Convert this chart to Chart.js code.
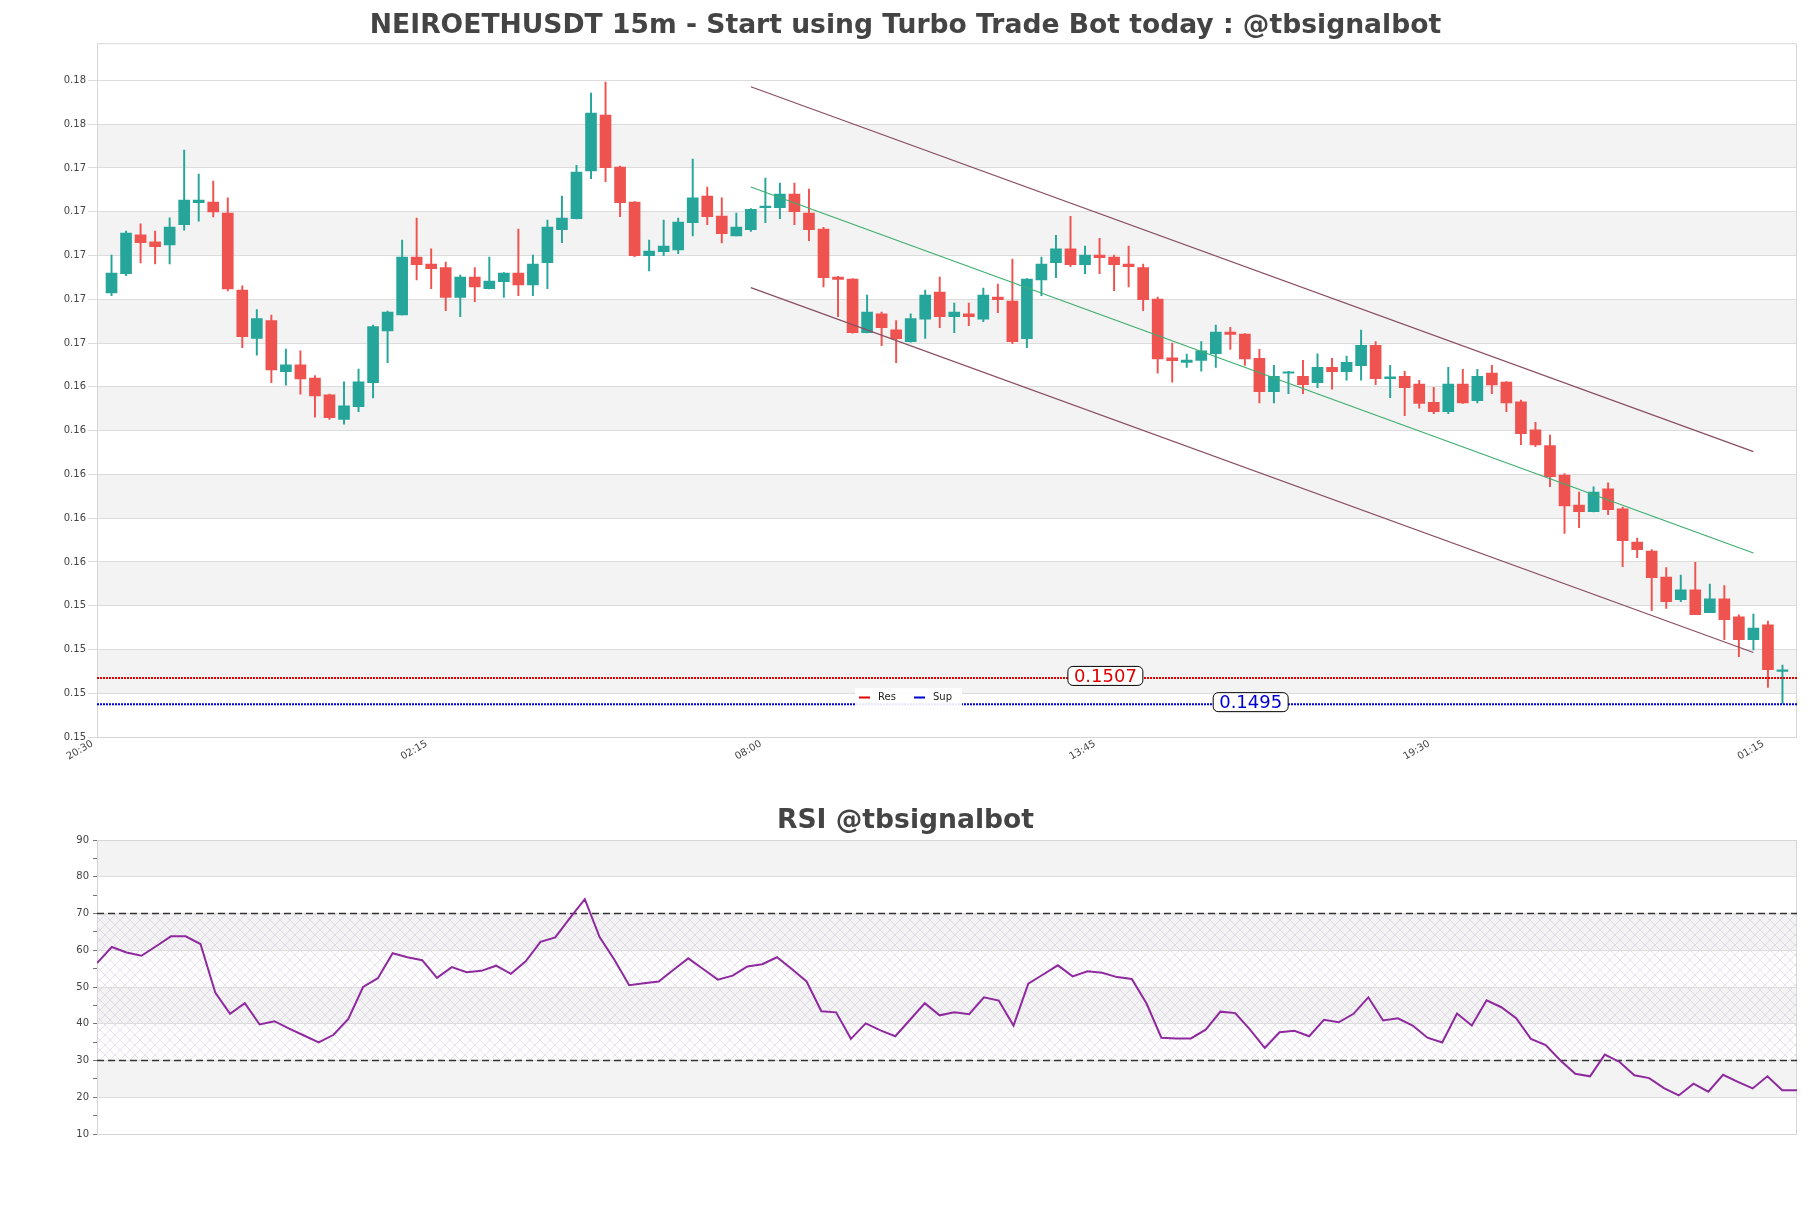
<!DOCTYPE html>
<html>
<head>
<meta charset="UTF-8">
<title>NEIROETHUSDT 15m</title>
<script src="https://cdn.jsdelivr.net/npm/chart.js@4.4.1/dist/chart.umd.min.js"></script>
<style>
  html, body { margin: 0; padding: 0; background: #fff; }
  #wrap { position: relative; width: 1811px; height: 1208px; }
  #priceBox { position: absolute; left: 0; top: 0; width: 1811px; height: 790px; }
  #rsiBox { position: absolute; left: 0; top: 790px; width: 1811px; height: 418px; }
</style>
</head>
<body>
<div id="wrap">
  <div id="priceBox"><canvas id="priceChart" width="1811" height="790"></canvas></div>
  <div id="rsiBox"><canvas id="rsiChart" width="1811" height="418"></canvas></div>
</div>
<script>
// x ticks (candle index -> time label)
const timeLabels = ['20:30', '02:15', '08:00', '13:45', '19:30', '01:15'];
const timeTickIdx = [-1, 22, 45, 68, 91, 114];
const priceTicks = [0.148, 0.150, 0.152, 0.154, 0.156, 0.158, 0.160, 0.162, 0.164, 0.166, 0.168, 0.170, 0.172, 0.174, 0.176, 0.178];

// 15m candles
const opens = [
  0.16829, 0.16917, 0.17094, 0.17062, 0.17048, 0.17141, 0.17241, 0.17244, 0.17194, 0.16842,
  0.16621, 0.16703, 0.16469, 0.16500, 0.16440, 0.16363, 0.16251, 0.16309, 0.16419, 0.16656,
  0.16729, 0.16993, 0.16961, 0.16945, 0.16808, 0.16902, 0.16848, 0.16880, 0.16920, 0.16866,
  0.16967, 0.17118, 0.17168, 0.17387, 0.17642, 0.17404, 0.17244, 0.16999, 0.17017, 0.17026,
  0.17150, 0.17272, 0.17180, 0.17090, 0.17118, 0.17219, 0.17219, 0.17281, 0.17194, 0.17121,
  0.16902, 0.16892, 0.16647, 0.16734, 0.16660, 0.16606, 0.16709, 0.16833, 0.16720, 0.16733,
  0.16709, 0.16810, 0.16792, 0.16620, 0.16889, 0.16967, 0.17030, 0.16958, 0.17002, 0.16993,
  0.16961, 0.16945, 0.16801, 0.16532, 0.16512, 0.16521, 0.16551, 0.16650, 0.16641, 0.16530,
  0.16378, 0.16462, 0.16448, 0.16419, 0.16489, 0.16469, 0.16497, 0.16590, 0.16437, 0.16448,
  0.16413, 0.16329, 0.16286, 0.16413, 0.16337, 0.16463, 0.16422, 0.16331, 0.16203, 0.16132,
  0.15997, 0.15860, 0.15830, 0.15934, 0.15842, 0.15691, 0.15650, 0.15531, 0.15428, 0.15472,
  0.15368, 0.15431, 0.15349, 0.15245, 0.15312, 0.15100
];
const highs = [
  0.17002, 0.17112, 0.17145, 0.17112, 0.17172, 0.17482, 0.17372, 0.17340, 0.17264, 0.16861,
  0.16753, 0.16728, 0.16573, 0.16564, 0.16451, 0.16367, 0.16423, 0.16481, 0.16682, 0.16746,
  0.17071, 0.17171, 0.17030, 0.16970, 0.16911, 0.16945, 0.16993, 0.16922, 0.17121, 0.17002,
  0.17162, 0.17272, 0.17412, 0.17742, 0.17793, 0.17409, 0.17246, 0.17071, 0.17162, 0.17171,
  0.17441, 0.17313, 0.17263, 0.17194, 0.17215, 0.17354, 0.17331, 0.17331, 0.17304, 0.17129,
  0.16905, 0.16895, 0.16819, 0.16741, 0.16703, 0.16733, 0.16842, 0.16902, 0.16783, 0.16783,
  0.16851, 0.16870, 0.16984, 0.16895, 0.16993, 0.17092, 0.17179, 0.17043, 0.17078, 0.17002,
  0.17043, 0.16961, 0.16810, 0.16600, 0.16550, 0.16607, 0.16682, 0.16672, 0.16643, 0.16571,
  0.16498, 0.16471, 0.16521, 0.16551, 0.16530, 0.16540, 0.16659, 0.16607, 0.16498, 0.16471,
  0.16430, 0.16398, 0.16489, 0.16480, 0.16480, 0.16498, 0.16424, 0.16340, 0.16238, 0.16180,
  0.16004, 0.15919, 0.15943, 0.15961, 0.15850, 0.15709, 0.15656, 0.15574, 0.15540, 0.15598,
  0.15499, 0.15492, 0.15358, 0.15362, 0.15330, 0.15129
];
const lows = [
  0.16816, 0.16908, 0.16966, 0.16962, 0.16962, 0.17116, 0.17157, 0.17176, 0.16838, 0.16579,
  0.16545, 0.16419, 0.16408, 0.16367, 0.16261, 0.16251, 0.16229, 0.16286, 0.16349, 0.16510,
  0.16728, 0.16889, 0.16848, 0.16748, 0.16720, 0.16789, 0.16847, 0.16808, 0.16816, 0.16816,
  0.16848, 0.17059, 0.17167, 0.17351, 0.17337, 0.17177, 0.16995, 0.16930, 0.16999, 0.17008,
  0.17090, 0.17141, 0.17058, 0.17089, 0.17110, 0.17150, 0.17168, 0.17141, 0.17068, 0.16857,
  0.16720, 0.16645, 0.16646, 0.16588, 0.16510, 0.16604, 0.16621, 0.16670, 0.16647, 0.16679,
  0.16698, 0.16739, 0.16597, 0.16579, 0.16816, 0.16899, 0.16949, 0.16917, 0.16917, 0.16839,
  0.16857, 0.16748, 0.16462, 0.16421, 0.16489, 0.16471, 0.16489, 0.16571, 0.16498, 0.16327,
  0.16327, 0.16369, 0.16369, 0.16396, 0.16389, 0.16430, 0.16430, 0.16410, 0.16350, 0.16268,
  0.16302, 0.16277, 0.16277, 0.16324, 0.16327, 0.16369, 0.16286, 0.16136, 0.16126, 0.15944,
  0.15730, 0.15757, 0.15828, 0.15816, 0.15578, 0.15619, 0.15377, 0.15387, 0.15418, 0.15359,
  0.15368, 0.15245, 0.15167, 0.15198, 0.15026, 0.14954
];
const closes = [
  0.16920, 0.17103, 0.17059, 0.17040, 0.17130, 0.17253, 0.17253, 0.17199, 0.16847, 0.16629,
  0.16712, 0.16477, 0.16500, 0.16436, 0.16358, 0.16259, 0.16313, 0.16423, 0.16675, 0.16742,
  0.16993, 0.16958, 0.16940, 0.16808, 0.16902, 0.16857, 0.16883, 0.16920, 0.16866, 0.16961,
  0.17130, 0.17171, 0.17381, 0.17651, 0.17401, 0.17241, 0.16999, 0.17020, 0.17043, 0.17153,
  0.17264, 0.17177, 0.17100, 0.17130, 0.17211, 0.17221, 0.17281, 0.17200, 0.17118, 0.16899,
  0.16891, 0.16647, 0.16742, 0.16670, 0.16620, 0.16712, 0.16819, 0.16720, 0.16742, 0.16720,
  0.16819, 0.16798, 0.16606, 0.16892, 0.16961, 0.17030, 0.16958, 0.17002, 0.16990, 0.16958,
  0.16949, 0.16798, 0.16528, 0.16519, 0.16522, 0.16564, 0.16650, 0.16640, 0.16528, 0.16378,
  0.16448, 0.16465, 0.16410, 0.16489, 0.16469, 0.16512, 0.16590, 0.16437, 0.16446, 0.16396,
  0.16324, 0.16286, 0.16413, 0.16327, 0.16448, 0.16409, 0.16327, 0.16186, 0.16134, 0.15990,
  0.15856, 0.15830, 0.15919, 0.15839, 0.15697, 0.15656, 0.15528, 0.15418, 0.15472, 0.15359,
  0.15431, 0.15336, 0.15245, 0.15298, 0.15108, 0.15102
];

// regression channel (start index, end index)
const channelIdx = [44, 113];
const channelUpper = [0.17771, 0.16104];
const channelMid = [0.17313, 0.15641];
const channelLower = [0.16853, 0.15186];

const resLevel = 0.1507;
const supLevel = 0.1495;

// RSI
const rsiValues = [
  56.5, 60.9, 59.4, 58.5, 61.1, 63.8, 63.8, 61.7, 48.5, 42.7,
  45.6, 39.8, 40.7, 38.7, 36.8, 34.9, 37.0, 41.3, 50.0, 52.4,
  59.2, 58.1, 57.3, 52.5, 55.4, 54.0, 54.4, 55.8, 53.6, 57.0,
  62.3, 63.5, 68.8, 73.9, 63.6, 57.4, 50.5, 51.0, 51.5, 54.7,
  57.8, 54.9, 52.0, 53.1, 55.6, 56.2, 58.1, 54.9, 51.5, 43.4,
  43.1, 35.9, 40.1, 38.2, 36.6, 41.1, 45.6, 42.3, 43.1, 42.6,
  47.2, 46.3, 39.5, 50.9, 53.4, 55.9, 52.9, 54.3, 53.9, 52.7,
  52.2, 45.5, 36.2, 36.0, 36.0, 38.4, 43.3, 42.9, 38.4, 33.4,
  37.7, 38.1, 36.6, 41.1, 40.4, 42.7, 47.2, 40.9, 41.5, 39.5,
  36.2, 34.9, 42.8, 39.5, 46.4, 44.5, 41.5, 35.9, 34.2, 30.0,
  26.4, 25.7, 31.6, 29.6, 26.0, 25.2, 22.5, 20.5, 23.7, 21.5,
  26.1, 24.2, 22.4, 25.7, 21.9, 21.9
];
const rsiTicks = [10, 15, 20, 25, 30, 35, 40, 45, 50, 55, 60, 65, 70, 75, 80, 85, 90];
const rsiLevels = [70, 30];

Chart.defaults.font.family = "'DejaVu Sans', sans-serif";
Chart.defaults.animation = false;

const upColor = '#26a69a';
const downColor = '#ef5350';
const candleColor = c => closes[c.dataIndex] >= opens[c.dataIndex] ? upColor : downColor;

// white background + alternating grey bands (+ optional hatch)
const bgBands = {
  id: 'bgBands',
  beforeDraw(chart, args, opts) {
    const { ctx, chartArea: a } = chart;
    const y = chart.scales.y;
    ctx.save();
    ctx.fillStyle = '#fff';
    ctx.fillRect(0, 0, chart.width, chart.height);
    ctx.fillStyle = opts.color;
    opts.ranges.forEach(([lo, hi]) => {
      const y1 = y.getPixelForValue(hi);
      const y2 = y.getPixelForValue(lo);
      ctx.fillRect(a.left, y1, a.right - a.left, y2 - y1);
    });
    if (opts.hatch) {
      const p = document.createElement('canvas');
      p.width = 10; p.height = 10;
      const pc = p.getContext('2d');
      pc.strokeStyle = 'rgba(190,170,205,0.5)';
      pc.lineWidth = 0.7;
      pc.beginPath();
      pc.moveTo(0, 0); pc.lineTo(10, 10);
      pc.moveTo(0, 10); pc.lineTo(10, 0);
      pc.stroke();
      const y1 = y.getPixelForValue(opts.hatch[1]);
      const y2 = y.getPixelForValue(opts.hatch[0]);
      ctx.fillStyle = ctx.createPattern(p, 'repeat');
      ctx.fillRect(a.left, y1, a.right - a.left, y2 - y1);
    }
    ctx.restore();
  }
};

const frame = {
  id: 'frame',
  beforeDatasetsDraw(chart) {
    const { ctx, chartArea: a } = chart;
    ctx.save();
    ctx.strokeStyle = '#d6d6d6';
    ctx.lineWidth = 1;
    ctx.strokeRect(a.left + 0.5, a.top + 0.5, a.right - a.left - 1, a.bottom - a.top);
    ctx.restore();
  }
};

// boxed value labels on the S/R lines
const levelTags = {
  id: 'levelTags',
  afterDatasetsDraw(chart, args, opts) {
    const { ctx } = chart;
    const { x, y } = chart.scales;
    ctx.save();
    ctx.font = "18px 'DejaVu Sans', sans-serif";
    ctx.textAlign = 'center';
    ctx.textBaseline = 'middle';
    opts.tags.forEach(t => {
      const txt = t.value.toFixed(4);
      const px = x.getPixelForValue(t.at);
      const py = y.getPixelForValue(t.value) - 2;
      const w = ctx.measureText(txt).width + 12;
      const h = 19;
      ctx.beginPath();
      ctx.roundRect(px - w / 2, py - h / 2, w, h, 5);
      ctx.fillStyle = '#fff';
      ctx.fill();
      ctx.strokeStyle = '#000';
      ctx.lineWidth = 1;
      ctx.stroke();
      ctx.fillStyle = t.color;
      ctx.fillText(txt, px, py + 1);
    });
    ctx.restore();
  }
};

// small Res / Sup legend box
const levelLegend = {
  id: 'levelLegend',
  afterDatasetsDraw(chart, args, opts) {
    const { ctx, chartArea: a } = chart;
    const left = a.left + opts.dx;
    const top = a.bottom - opts.dy;
    ctx.save();
    ctx.fillStyle = 'rgba(255,255,255,0.9)';
    ctx.fillRect(left, top, 107, 19);
    ctx.font = "10px 'DejaVu Sans', sans-serif";
    ctx.textBaseline = 'middle';
    let cx = left + 4;
    opts.items.forEach(it => {
      ctx.strokeStyle = it.color;
      ctx.lineWidth = 2;
      ctx.beginPath();
      ctx.moveTo(cx, top + 9.5);
      ctx.lineTo(cx + 11, top + 9.5);
      ctx.stroke();
      ctx.fillStyle = '#222';
      ctx.fillText(it.label, cx + 19, top + 9.5);
      cx += 55;
    });
    ctx.restore();
  }
};

const lineDs = (xs, ys, color, width, dash, order) => ({
  type: 'line',
  data: xs.map((xv, i) => ({ x: xv, y: ys[i] })),
  borderColor: color,
  borderWidth: width,
  borderDash: dash,
  pointRadius: 0,
  fill: false,
  order: order
});

new Chart(document.getElementById('priceChart'), {
  type: 'bar',
  data: {
    datasets: [
      {
        label: 'wick',
        data: lows.map((l, i) => ({ x: i, y: [l, highs[i]] })),
        backgroundColor: candleColor,
        barThickness: 1.3,
        grouped: false,
        borderWidth: 0,
        order: 5
      },
      {
        label: 'body',
        data: opens.map((o, i) => ({ x: i, y: [o, closes[i]] })),
        backgroundColor: candleColor,
        barThickness: 11,
        minBarLength: 1.5,
        grouped: false,
        borderWidth: 0,
        order: 4
      },
      lineDs(channelIdx, channelUpper, '#8a4d62', 1.2, [], 3),
      lineDs(channelIdx, channelMid, '#3cae6e', 1.2, [], 3),
      lineDs(channelIdx, channelLower, '#8a4d62', 1.2, [], 3),
      lineDs([-1, 116], [resLevel, resLevel], '#e00000', 2, [2, 1], 2),
      lineDs([-1, 116], [supLevel, supLevel], '#0000d0', 2, [2, 1], 2)
    ]
  },
  options: {
    responsive: false,
    devicePixelRatio: 1,
    layout: { padding: { left: 14, right: 14, top: 0, bottom: 0 } },
    scales: {
      x: {
        type: 'linear',
        min: -1,
        max: 116,
        offset: false,
        afterBuildTicks: s => { s.ticks = timeTickIdx.map(v => ({ value: v })); },
        afterFit: s => { s.height = 53; },
        ticks: {
          autoSkip: false,
          minRotation: 30,
          maxRotation: 30,
          padding: 1,
          labelOffset: -4.5,
          color: '#444',
          font: { size: 10 },
          callback: v => timeLabels[timeTickIdx.indexOf(v)]
        },
        grid: { offset: false, drawOnChartArea: false, drawTicks: false },
        border: { display: false }
      },
      y: {
        min: 0.148,
        max: 0.1797,
        beginAtZero: false,
        afterBuildTicks: s => { s.ticks = priceTicks.map(v => ({ value: v })); },
        afterFit: s => { s.width = 83; },
        ticks: { padding: 2, color: '#444', font: { size: 10 }, callback: v => v.toFixed(2) },
        grid: { color: '#dcdcdc', tickLength: 9 },
        border: { display: false }
      }
    },
    plugins: {
      legend: { display: false },
      tooltip: { enabled: false },
      title: {
        display: true,
        text: 'NEIROETHUSDT 15m - Start using Turbo Trade Bot today : @tbsignalbot',
        color: '#444',
        font: { size: 26.6, weight: 'bold' },
        padding: { top: 10, bottom: 1.3 }
      },
      bgBands: {
        color: '#f3f3f3',
        ranges: [[0.150, 0.152], [0.154, 0.156], [0.158, 0.160], [0.162, 0.164], [0.166, 0.168], [0.170, 0.172], [0.174, 0.176]]
      },
      levelTags: {
        tags: [
          { value: resLevel, at: 68.4, color: '#e00000' },
          { value: supLevel, at: 78.4, color: '#0000d0' }
        ]
      },
      levelLegend: {
        dx: 758, dy: 49,
        items: [{ label: 'Res', color: '#e00000' }, { label: 'Sup', color: '#0000d0' }]
      }
    }
  },
  plugins: [bgBands, frame, levelTags, levelLegend]
});

new Chart(document.getElementById('rsiChart'), {
  type: 'line',
  data: {
    datasets: [
      {
        label: 'RSI',
        data: rsiValues.map((v, i) => ({ x: i, y: v })),
        borderColor: '#8e2a9e',
        borderWidth: 2,
        pointRadius: 0,
        tension: 0,
        order: 1
      },
      lineDs([0, 115], [rsiLevels[0], rsiLevels[0]], '#333', 1.3, [7, 4], 2),
      lineDs([0, 115], [rsiLevels[1], rsiLevels[1]], '#333', 1.3, [7, 4], 2)
    ]
  },
  options: {
    responsive: false,
    devicePixelRatio: 1,
    layout: { padding: { left: 14, right: 14, top: 0, bottom: 74 } },
    scales: {
      x: { type: 'linear', min: 0, max: 115, display: false },
      y: {
        min: 10,
        max: 90,
        afterBuildTicks: s => { s.ticks = rsiTicks.map(v => ({ value: v })); },
        afterFit: s => { s.width = 83; },
        ticks: { padding: 4, color: '#444', font: { size: 10 }, callback: v => (v % 10 === 0 ? String(v) : '') },
        grid: {
          color: c => (c.tick && c.tick.value % 10 === 0 ? '#dcdcdc' : 'rgba(0,0,0,0)'),
          tickColor: '#777',
          tickLength: 4
        },
        border: { display: false }
      }
    },
    plugins: {
      legend: { display: false },
      tooltip: { enabled: false },
      title: {
        display: true,
        text: 'RSI @tbsignalbot',
        color: '#444',
        font: { size: 26.6, weight: 'bold' },
        padding: { top: 15.5, bottom: 2.6 }
      },
      bgBands: {
        color: '#f3f3f3',
        ranges: [[20, 30], [40, 50], [60, 70], [80, 90]],
        hatch: [30, 70]
      }
    }
  },
  plugins: [bgBands, frame]
});
</script>
</body>
</html>
